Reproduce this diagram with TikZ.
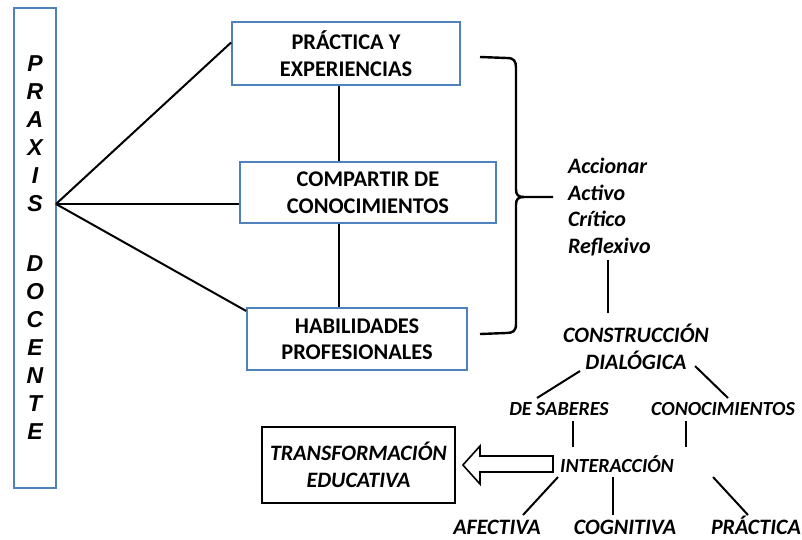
\documentclass[tikz,border=0pt]{standalone}
\usepackage{fontspec}
\setmainfont{Carlito}
\newfontfamily\praxisfont{Liberation Sans}
\usetikzlibrary{calc}
\definecolor{azulcaja}{RGB}{79,129,189}

\begin{document}
\begin{tikzpicture}[x=1pt, y=-1pt, line width=2pt,
  caja/.style={draw=azulcaja, line width=1.8pt, align=center, inner sep=0pt,
    font=\fontsize{22.4}{26.5}\selectfont\bfseries},
  etiqueta/.style={align=center, inner sep=1pt,
    font=\fontsize{22}{26.7}\selectfont\bfseries\itshape},
  chica/.style={etiqueta, font=\fontsize{20}{24}\selectfont\bfseries\itshape}]

\useasboundingbox (0,0) rectangle (802,539);

% Praxis docente
\node[draw=azulcaja, line width=1.8pt, minimum width=42, minimum height=480, inner sep=0pt,
  align=center, font=\fontsize{23}{28}\selectfont\praxisfont\bfseries\itshape]
  (praxis) at (35,248) {P\\R\\A\\X\\I\\S\\[32pt]D\\O\\C\\E\\N\\T\\E};
\coordinate (hub) at (56,204);

% Boxes
\node[caja, minimum width=228, minimum height=63] (practica) at (346,53.5) {PRÁCTICA Y\\EXPERIENCIAS};
\node[caja, minimum width=256, minimum height=61] (compartir) at (368,192.5) {COMPARTIR DE\\CONOCIMIENTOS};
\node[caja, minimum width=220, minimum height=62] (habilidades) at (357,339) {HABILIDADES\\PROFESIONALES};

% Lines from praxis
\draw (hub) -- ($(practica.north west)!0.33!(practica.south west)$);
\draw (hub) -- (hub -| compartir.west);
\draw (hub) -- ($(habilidades.north west)!0.06!(habilidades.south west)$);
\draw ($(practica.south)+(-7,0)$) coordinate (v1) -- (v1 |- compartir.north);
\draw (v1 |- compartir.south) -- (v1 |- habilidades.north);

% Brace
\draw[line width=2.4pt] (480,57) -- (507,58) .. controls (514,58) and (516,61) .. (516,68)
  -- (516,189) .. controls (516,195) and (518,197) .. (524,197) -- (553,197);
\draw[line width=2.4pt] (524,197) .. controls (518,197) and (516,199) .. (516,205)
  -- (516,324) .. controls (516,331) and (513,333) .. (506,333) -- (480,334);

% Right side
\node[etiqueta, align=left, anchor=west] (accionar) at (566,207) {Accionar\\Activo\\Crítico\\Reflexivo};
\node[etiqueta] (construccion) at (636,346.5) {CONSTRUCCIÓN\\DIALÓGICA};
\node[chica] (saberes) at (559,409) {DE SABERES};
\node[chica] (conocimientos) at (723,409) {CONOCIMIENTOS};
\node[chica] (interaccion) at (617,464) {INTERACCIÓN};
\node[etiqueta, anchor=base] (afectiva) at (497,534.5) {AFECTIVA};
\node[etiqueta, anchor=base] (cognitiva) at (625,534.5) {COGNITIVA};
\node[etiqueta, anchor=base] (practicab) at (756,534.5) {PRÁCTICA};
\node[etiqueta, draw, line width=1.8pt, minimum width=193, minimum height=76]
  (transformacion) at (358.5,465) {TRANSFORMACIÓN\\EDUCATIVA};

% Tree lines
\draw ($(accionar.west)+(42,53)$) -- ($(construccion)+(-28,-33.5)$);
\draw ($(construccion)+(-56,24.5)$) -- ($(saberes)+(-22,-11)$);
\draw ($(construccion)+(59,19.5)$) -- ($(conocimientos)+(5,-11)$);
\draw ($(saberes)+(14,12)$) -- ($(interaccion)+(-44,-17)$);
\draw ($(conocimientos)+(-37,12)$) -- ($(interaccion)+(69,-17)$);
\draw ($(interaccion)+(-59,13)$) -- ($(afectiva.base)+(26,-19.5)$);
\draw ($(interaccion)+(-4,13)$) -- ($(cognitiva.base)+(-12,-19.5)$);
\draw ($(interaccion)+(96,13)$) -- ($(practicab.base)+(-8,-19.5)$);

% Block arrow
\coordinate (ar1) at ($(interaccion)+(-64,0)$);
\coordinate (ar2) at ($(transformacion.east)+(7,0)$);
\draw[line width=1.6pt, fill=white] ($(ar1)+(0,-8)$) -- ($(ar1)+(-73,-8)$) -- ($(ar1)+(-73,-18)$)
  -- (ar2) -- ($(ar1)+(-73,20)$) -- ($(ar1)+(-73,8)$) -- ($(ar1)+(0,8)$) -- cycle;

\end{tikzpicture}
\end{document}
